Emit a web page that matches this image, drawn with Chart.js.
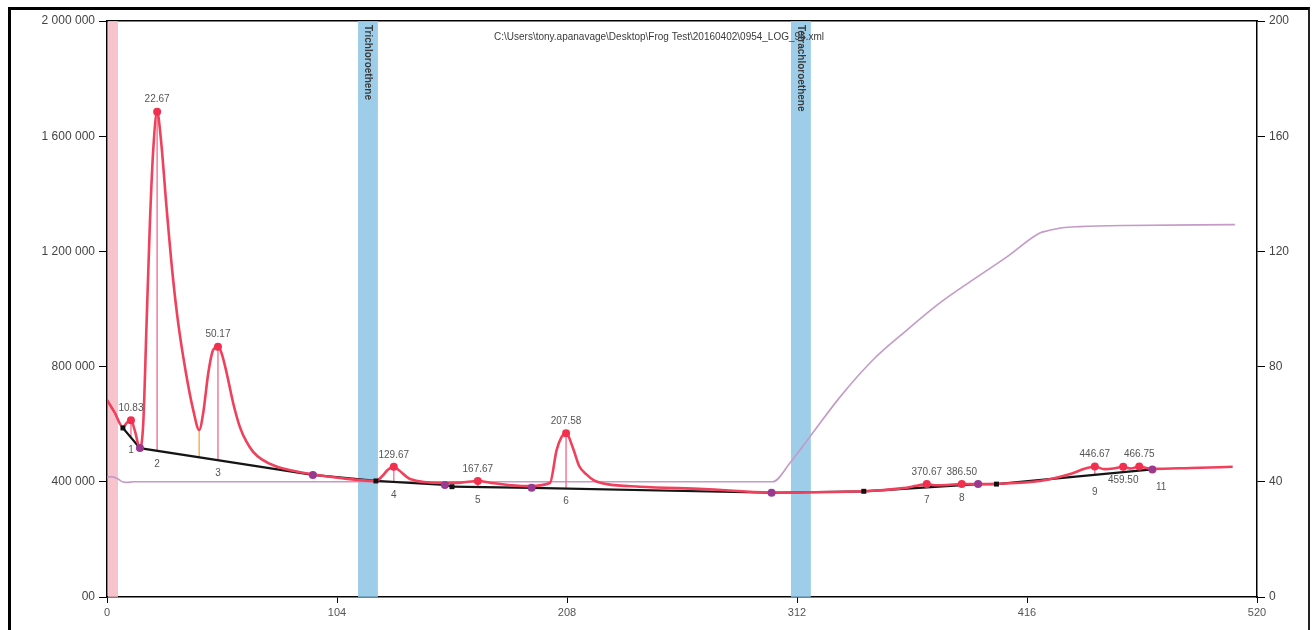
<!DOCTYPE html>
<html><head><meta charset="utf-8">
<script src="https://cdn.jsdelivr.net/npm/chart.js@4.4.1/dist/chart.umd.min.js"></script>
<style>
html,body{margin:0;padding:0;background:#fff;}
#wrap{position:relative;width:1314px;height:630px;overflow:hidden;}
#frame{position:absolute;left:8px;top:7px;width:1302px;height:640px;border-top:3px solid #000;border-left:3px solid #000;border-right:2px solid #222;box-sizing:border-box;pointer-events:none;}
canvas{position:absolute;left:0;top:0;}
</style></head><body>
<div id="wrap"><canvas id="c" width="1314" height="630"></canvas><div id="frame"></div></div>
<script>
// ---- data ----
const fileTitle = "C:\\Users\\tony.apanavage\\Desktop\\Frog Test\\20160402\\0954_LOG_96.xml";
const xTicks = [0, 104, 208, 312, 416, 520];
const yTicks = [0, 400000, 800000, 1200000, 1600000, 2000000];
const yRightTicks = [0, 40, 80, 120, 160, 200];

const signalTimes = [0, 3.5, 7.2, 9, 10.83, 12.5, 14.9, 16.4, 17.9, 19.4, 20.9, 22.67, 24.4, 26.9, 29.6, 32.2, 35.7, 39, 41.7, 43.5, 45.8, 48, 50.17, 51.8, 54.1, 57.1, 60.1, 63, 66, 70, 76, 83, 93.1, 105.3, 121.6, 124.5, 127, 129.67, 132, 137, 152, 160, 167.67, 175, 189.7, 200.3, 203.3, 205.5, 207.58, 210.8, 213.5, 216.9, 220, 226, 241, 270, 300, 342, 360, 366, 370.67, 375, 380, 386.5, 393.9, 402.2, 421.8, 436.7, 442, 446.67, 451, 455, 459.5, 463, 466.75, 470, 473, 490, 509];
const signalValues = [684000, 640000, 590000, 605000, 614000, 580000, 517000, 604000, 951000, 1299000, 1552000, 1685000, 1587000, 1355000, 1125000, 951000, 778000, 649000, 580000, 639000, 778000, 858000, 869000, 847000, 778000, 672000, 590000, 540000, 505000, 478000, 455000, 440000, 426000, 413000, 403000, 420000, 442000, 452000, 440000, 410000, 396000, 397000, 403000, 395000, 385000, 396000, 510000, 555000, 569000, 515000, 455000, 425000, 406000, 392000, 383000, 375000, 363000, 367000, 378000, 386000, 392000, 388000, 389000, 392000, 392000, 393000, 403000, 430000, 445000, 453000, 444000, 446000, 452000, 446000, 453000, 448000, 445000, 448000, 452000];

const baseTimes  = [7.2, 14.9, 93.1, 121.6, 152.8, 156, 192, 300.5, 342.2, 393.9, 402.2, 472.7];
const baseValues = [587000, 517000, 424000, 403000, 389000, 383000, 379000, 362000, 367000, 392000, 392000, 443000];
const baseKinds  = ["start", "end", "end", "start", "end", "start", "end", "end", "start", "end", "start", "end"];

const tempTimes  = [0, 2, 5, 7, 9, 12, 100, 200, 301, 308.8, 317.8, 331.4, 346.3, 361.7, 376.6, 391.5, 406.9, 421.8, 425, 432, 440, 460, 510];
const tempValues = [41.5, 41.8, 41.0, 40.0, 39.8, 40.0, 40.0, 40.0, 40.0, 46.5, 55.6, 69.4, 82.3, 92.7, 102.1, 110.1, 118.1, 126.4, 127.1, 128.2, 128.6, 129.0, 129.3];

const peakTimes  = [10.83, 22.67, 50.17, 129.67, 167.67, 207.58, 370.67, 386.50, 446.67, 459.50, 466.75];
const peakValues = [614000, 1685000, 869000, 452000, 403000, 569000, 392000, 392000, 453000, 452000, 453000];
const peakLabels = ["10.83", "22.67", "50.17", "129.67", "167.67", "207.58", "370.67", "386.50", "446.67", "459.50", "466.75"];
const peakNumbers = ["1", "2", "3", "4", "5", "6", "7", "8", "9", "10", "11"];

const valleyTimes = [41.7];
const valleyValues = [580000];

const bandNames = ["", "Trichloroethene", "Tetrachloroethene"];
const bandStart = [0.5, 113.5, 309.2];
const bandEnd   = [5.0, 122.5, 318.3];

// ---- helpers ----
function baseAt(t) {
  if (t <= baseTimes[0]) return baseValues[0];
  for (let i = 1; i < baseTimes.length; i++) {
    if (t <= baseTimes[i]) {
      const f = (t - baseTimes[i-1]) / (baseTimes[i] - baseTimes[i-1]);
      return baseValues[i-1] + f * (baseValues[i] - baseValues[i-1]);
    }
  }
  return baseValues[baseValues.length - 1];
}
const pts = (xs, ys) => xs.map((x, i) => ({x: x, y: ys[i]}));
const fmtSpace = v => v === 0 ? "00" : String(v).replace(/\B(?=(\d{3})+(?!\d))/g, " ");

const bandColors = ["rgba(246,186,196,0.85)", "rgba(140,196,228,0.85)", "rgba(140,196,228,0.85)"];

const datasets = [];
datasets.push({data: pts(peakTimes, peakValues), showLine: false, pointRadius: 4, pointBackgroundColor: "#f0304e", pointBorderWidth: 0, order: 0});
datasets.push({data: pts(baseTimes, baseValues), showLine: false,
  pointStyle: baseKinds.map(k => k === "start" ? "rect" : "circle"),
  pointRadius: baseKinds.map(k => k === "start" ? 3.5 : 4),
  pointBackgroundColor: baseKinds.map(k => k === "start" ? "#111" : "#9a3a8e"),
  pointBorderWidth: 0, order: 1});
datasets.push({data: pts(signalTimes, signalValues), borderColor: "#f0405c", borderWidth: 2.6, pointRadius: 0, cubicInterpolationMode: "monotone", order: 2});
datasets.push({data: pts(baseTimes, baseValues), borderColor: "#151515", borderWidth: 2.2, pointRadius: 0, tension: 0, order: 3});
peakTimes.forEach((t, i) => {
  datasets.push({data: [{x: t, y: peakValues[i]}, {x: t, y: baseAt(t)}], borderColor: "rgba(240,120,150,0.7)", borderWidth: 1, pointRadius: 0, order: 4});
});
valleyTimes.forEach((t, i) => {
  datasets.push({data: [{x: t, y: valleyValues[i]}, {x: t, y: baseAt(t)}], borderColor: "rgba(242,180,100,0.9)", borderWidth: 1, pointRadius: 0, order: 4});
});
datasets.push({data: pts(tempTimes, tempValues), yAxisID: "yR", borderColor: "#c49ac8", borderWidth: 1.6, pointRadius: 0, cubicInterpolationMode: "monotone", order: 5});
bandNames.forEach((n, i) => {
  datasets.push({data: [{x: bandStart[i], y: 2000000}, {x: bandEnd[i], y: 2000000}], fill: "origin", backgroundColor: bandColors[i], borderWidth: 0, pointRadius: 0, order: 10});
});

const textPlugin = {
  id: "texts",
  afterDraw(chart) {
    const {ctx, chartArea} = chart;
    const xs = chart.scales.x, ys = chart.scales.y;
    ctx.save();
    ctx.fillStyle = "#3a3a3a";
    ctx.font = "10px 'Liberation Sans', Arial, sans-serif";
    ctx.textAlign = "center";
    ctx.textBaseline = "middle";
    ctx.fillText(fileTitle, chartArea.left + 0.48 * (chartArea.right - chartArea.left), chartArea.top + 16);
    ctx.font = "bold 10px 'Liberation Sans', Arial, sans-serif";
    ctx.fillStyle = "#3a3a3a";
    bandNames.forEach((n, i) => {
      if (!n) return;
      const cx = xs.getPixelForValue((bandStart[i] + bandEnd[i]) / 2);
      ctx.save();
      ctx.translate(cx, chartArea.top + 4);
      ctx.rotate(Math.PI / 2);
      ctx.textAlign = "left";
      ctx.textBaseline = "middle";
      ctx.fillText(n, 0, 0);
      ctx.restore();
    });
    ctx.font = "10px 'Liberation Sans', Arial, sans-serif";
    ctx.fillStyle = "#555";
    ctx.textAlign = "center";
    peakTimes.forEach((t, i) => {
      const px = xs.getPixelForValue(t);
      const py = ys.getPixelForValue(peakValues[i]);
      const by = ys.getPixelForValue(baseAt(t));
      if (i === 9) {
        ctx.textBaseline = "middle";
        ctx.fillText(peakLabels[i], px, py + 13);
      } else {
        ctx.textBaseline = "bottom";
        ctx.fillText(peakLabels[i], px, py - 7);
        ctx.textBaseline = "middle";
        if (i === 10) ctx.fillText(peakNumbers[i], px + 22, by + 17);
        else if (i === 8) ctx.fillText(peakNumbers[i], px, by + 17);
        else ctx.fillText(peakNumbers[i], px, by + 13);
      }
    });
    ctx.restore();
  }
};

const tickFont = {family: "'Liberation Sans', Arial, sans-serif", size: 12};
new Chart(document.getElementById("c"), {
  type: "line",
  data: {datasets: datasets},
  plugins: [textPlugin],
  options: {
    responsive: false,
    animation: false,
    layout: {padding: 0},
    plugins: {legend: {display: false}, tooltip: {enabled: false}, title: {display: false}},
    scales: {
      x: {
        type: "linear", position: "bottom", min: 0, max: 520,
        afterFit(s) { s.height = 33; },
        afterBuildTicks(s) { s.ticks = xTicks.map(v => ({value: v})); },
        grid: {drawOnChartArea: false, drawTicks: true, tickLength: 6, color: "#000"},
        border: {color: "#000", width: 1.5},
        ticks: {color: "#555", font: {family: tickFont.family, size: 11}, padding: 3, autoSkip: false, maxRotation: 0}
      },
      xTop: {
        type: "linear", axis: "x", position: "top", min: 0, max: 520,
        afterFit(s) { s.height = 21; },
        grid: {display: false},
        border: {color: "#000", width: 1.5},
        ticks: {display: false}
      },
      y: {
        type: "linear", position: "left", min: 0, max: 2000000,
        afterFit(s) { s.width = 107; },
        afterBuildTicks(s) { s.ticks = yTicks.map(v => ({value: v})); },
        grid: {drawOnChartArea: false, drawTicks: true, tickLength: 8, color: "#000"},
        border: {color: "#000", width: 1.5},
        ticks: {color: "#444", font: tickFont, padding: 4, callback: v => fmtSpace(v)}
      },
      yR: {
        type: "linear", position: "right", min: 0, max: 200,
        afterFit(s) { s.width = 57; },
        afterBuildTicks(s) { s.ticks = yRightTicks.map(v => ({value: v})); },
        grid: {drawOnChartArea: false, drawTicks: true, tickLength: 8, color: "#000"},
        border: {color: "#000", width: 1.5},
        ticks: {color: "#444", font: tickFont, padding: 4}
      }
    }
  }
});
</script>
</body></html>
